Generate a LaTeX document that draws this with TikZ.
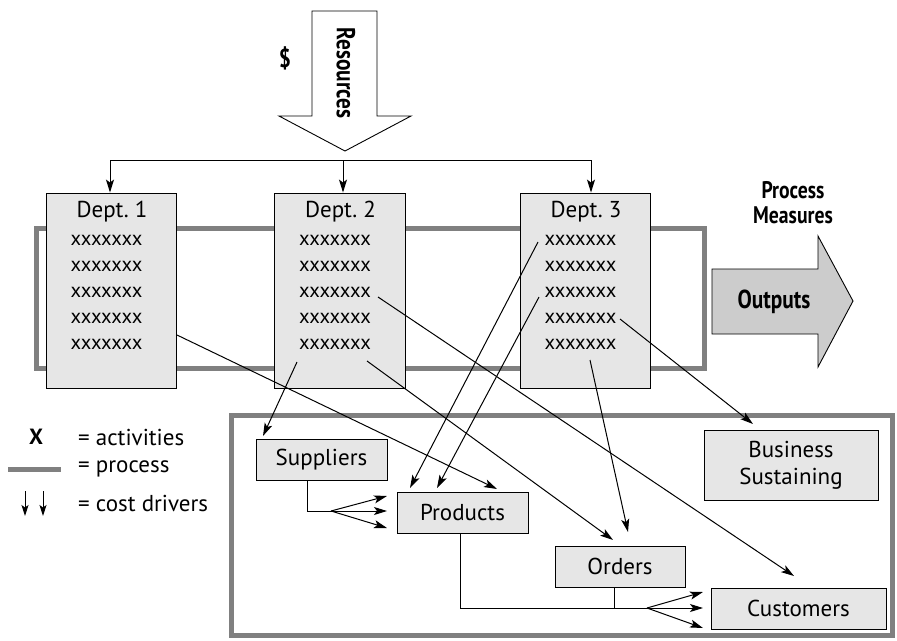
\documentclass[tikz,border=0pt]{standalone}
\usepackage{fontspec}
\setmainfont{PT Sans}
\newfontfamily\condbf[FakeStretch=0.82]{PT Sans Bold}
\usetikzlibrary{arrows.meta,calc}
\definecolor{boxfill}{HTML}{E6E6E6}
\definecolor{procgray}{HTML}{808080}
\definecolor{outfill}{HTML}{CCCCCC}
\begin{document}
\begin{tikzpicture}[x=1pt,y=-1pt,
  every node/.style={font=\fontsize{23}{26}\selectfont, inner sep=0pt},
  deptbox/.style={draw, line width=0.9pt, fill=boxfill, minimum width=130pt, minimum height=195pt},
  catbox/.style={draw, line width=0.9pt, fill=boxfill, minimum height=41pt},
  xrow/.style={font=\fontsize{20.5}{22}\selectfont},
  proc/.style={draw=procgray, line width=5pt},
  conn/.style={line width=1pt},
  arr/.style={line width=1pt, -{Stealth[length=13pt,width=8pt,inset=3pt]}},
  bigbf/.style={font=\fontsize{26}{28}\condbf}
]
\useasboundingbox (0,0) rectangle (897,640);
% process rectangle (behind departments)
\draw[proc] (36.5,228.5) rectangle (704.5,368.5);
% bottom rectangle
\draw[proc] (231.5,415.5) rectangle (892.5,635.5);
% resources arrow
\draw[line width=0.9pt, fill=white] (312,11) -- (377,11) -- (377,116) -- (411,116) -- (345,151) -- (279,116) -- (312,116) -- cycle;
\node[bigbf, rotate=-90] (res) at (346,73) {Resources};
\node[bigbf] (dollar) at (285,58) {\$};
% departments
\node[deptbox] (d1) at (111,290.5) {};
\node[deptbox, minimum width=131pt] (d2) at (339.5,290.5) {};
\node[deptbox] (d3) at (585,290.5) {};
\foreach \d/\cx/\n in {d1/111/1, d2/339.5/2, d3/585/3}{
  \node (\d t) at (\cx+1,212) {Dept.~\n};
  \foreach \r/\ry in {1/240,2/266,3/292,4/318,5/344}{
    \node[xrow] (\d x\r) at (\cx-4.5,\ry) {xxxxxxx};
  }
}
% distribution lines
\coordinate (j) at (343,160);
\coordinate (ja) at (110,160);
\coordinate (jb) at (591,160);
\draw[conn] (ja) -- (jb);
\draw[arr] (j) -- (j |- d2.north);
\draw[arr] (ja) -- (ja |- d1.north);
\draw[arr] (jb) -- (jb |- d3.north);
% outputs arrow
\draw[line width=0.9pt, fill=outfill] (712,269) -- (818,269) -- (818,236) -- (853,301) -- (818,367) -- (818,334) -- (712,334) -- cycle;
\node[bigbf] (out) at (774,302) {Outputs};
\node[bigbf, align=center, font=\fontsize{24}{25}\condbf] (pm) at (793,203) {Process\\Measures};
% category boxes
\node[catbox, minimum width=131pt] (sup) at (321.5,459.5) {Suppliers};
\node[catbox, minimum width=131pt] (prod) at (462.5,512.5) {Products};
\node[catbox, minimum width=130pt] (ord) at (620,566.5) {Orders};
\node[catbox, minimum width=175pt] (cus) at (798.5,608.5) {Customers};
\node[catbox, minimum width=174pt, minimum height=70pt, align=center, font=\fontsize{23}{27}\selectfont] (bus) at (791,465) {Business\\Sustaining};
% cost driver lines
\coordinate (s1) at (177,335);  \coordinate (e1) at (497,489);
\coordinate (s2) at (297,362);  \coordinate (e2) at (263,436);
\coordinate (s3) at (367,361);  \coordinate (e3) at (613,540);
\coordinate (s4) at (378,297);  \coordinate (e4) at (794,576);
\coordinate (s5) at (538,242);  \coordinate (e5) at (410,488);
\coordinate (s6) at (539,297);  \coordinate (e6) at (437,488);
\coordinate (s7) at (590,360);  \coordinate (e7) at (628,532);
\coordinate (s8) at (620,319);  \coordinate (e8) at (753,424);
\foreach \i in {1,...,8}{\draw[arr] (s\i) -- (e\i);}
% suppliers fan
\coordinate (f1) at (331,511);
\coordinate (g1) at (307,480);
\draw[conn] (g1) |- (f1);
\coordinate (f1a) at (387,496); \coordinate (f1b) at (387,511); \coordinate (f1c) at (387,528);
\draw[arr] (f1) -- (f1a); \draw[arr] (f1) -- (f1b); \draw[arr] (f1) -- (f1c);
% products/orders fan
\coordinate (f2) at (647,608);
\coordinate (g2) at (460,533);
\coordinate (g3) at (614,587);
\draw[conn] (g2) |- (f2);
\draw[conn] (g3) -- (g3 |- f2);
\coordinate (f2a) at (703,592); \coordinate (f2b) at (703,608); \coordinate (f2c) at (703,628);
\draw[arr] (f2) -- (f2a); \draw[arr] (f2) -- (f2b); \draw[arr] (f2) -- (f2c);
% legend
\node[font=\fontsize{22}{24}\bfseries] (lx) at (36,437) {X};
\node[anchor=west] (la) at (78,437) {= activities};
\coordinate (lp1) at (8,469); \coordinate (lp2) at (61,469);
\draw[proc] (lp1) -- (lp2);
\node[anchor=west] (lb) at (78,469) {= process};
\coordinate (lc1) at (25,491); \coordinate (lc2) at (25,516);
\coordinate (lc3) at (43,491); \coordinate (lc4) at (43,516);
\draw[arr, -{Stealth[length=11pt,width=7pt,inset=2.5pt]}] (lc1) -- (lc2);
\draw[arr, -{Stealth[length=11pt,width=7pt,inset=2.5pt]}] (lc3) -- (lc4);
\node[anchor=west] (lcd) at (78,503) {= cost drivers};
\end{tikzpicture}
\end{document}
